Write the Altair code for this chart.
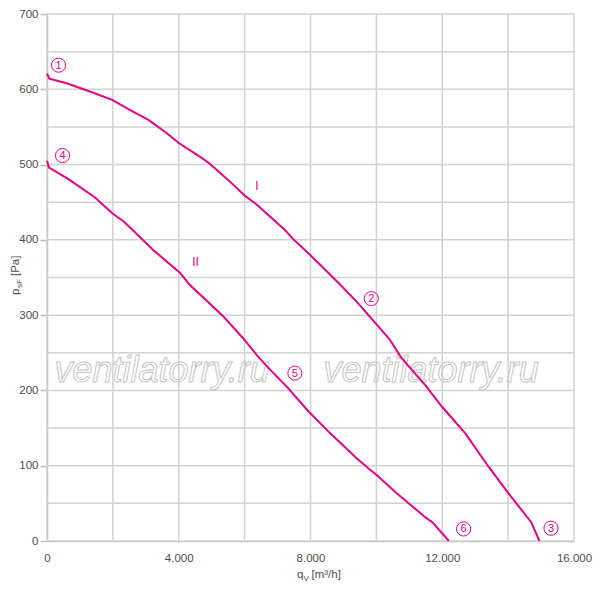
import altair as alt
import pandas as pd

# Kennlinie I (q_V in m³/h, p_sF in Pa)
q_1 = [0, 70, 600, 1300, 1980, 2500, 3090, 3600, 3990, 4590, 4890, 5490, 6000,
       6390, 7200, 7500, 7990, 8500, 8890, 9400, 10000, 10400, 10750, 11500,
       12000, 12700, 13400, 14000, 14700, 14950]
p_1 = [621, 614, 608, 597, 586, 573, 559, 543, 529, 512, 503, 480, 459,
       446, 414, 400, 380, 358, 341, 318, 288, 268, 244, 206,
       178, 143, 99, 64, 25, 0]

# Kennlinie II
q_2 = [0, 60, 640, 1440, 1990, 2340, 3240, 4040, 4340, 5340, 5940, 6390, 6700,
       7300, 7900, 8600, 9400, 9800, 10000, 10600, 11500, 11700, 12200]
p_2 = [505, 496, 481, 457, 435, 424, 386, 356, 340, 299, 270, 246, 231,
       204, 174, 143, 110, 95, 88, 64, 31, 25, 0]

# Betriebspunkte (Kreis-Nummern)
point_labels = ["1", "2", "3", "4", "5", "6"]
point_q = [351, 9846, 15301, 471, 7526, 12648]
point_p = [632, 322, 17, 512, 223, 16]

# Kurvennamen
curve_names = ["I", "II"]
curve_name_q = [6374, 4512]
curve_name_p = [471, 371]

# Raster und Achsenbeschriftung
grid_q = list(range(0, 16001, 2000))
grid_p = list(range(0, 701, 50))
tick_q = [0, 4000, 8000, 12000, 16000]
tick_p = list(range(0, 701, 100))

# Wasserzeichen
watermark = ["ventilatorry.ru", "ventilatorry.ru"]
watermark_q = [3497, 11663]
watermark_p = [211, 211]

PINK = "#e5007d"
GRID = "#d2d2d2"
AXIS = "#bdbdbd"
LABEL = "#4d4d4d"
FONT = "Liberation Sans"

x_scale = alt.Scale(domain=[0, 16000], nice=False)
y_scale = alt.Scale(domain=[0, 700], nice=False)

x_axis = alt.Axis(
    values=tick_q, grid=False, ticks=False, title=None,
    labelExpr="replace(format(datum.value, ','), ',', '.')",
    labelFont=FONT, labelFontSize=11.5, labelColor=LABEL, labelPadding=11,
    labelFlush=False, labelOverlap=False, domainColor=AXIS, domainWidth=1.5,
)
y_axis = alt.Axis(
    values=tick_p, grid=False, title=None, tickSize=7, tickColor=AXIS,
    tickWidth=1.5, labelFont=FONT, labelFontSize=11.5, labelColor=LABEL,
    labelPadding=2, labelFlush=False, labelOverlap=False,
    domainColor=AXIS, domainWidth=1.5,
)

X = alt.X("q:Q", scale=x_scale, axis=x_axis)
Y = alt.Y("p:Q", scale=y_scale, axis=y_axis)

curves = pd.concat([
    pd.DataFrame({"q": q_1, "p": p_1, "kurve": "I"}),
    pd.DataFrame({"q": q_2, "p": p_2, "kurve": "II"}),
])
points = pd.DataFrame({"nr": point_labels, "q": point_q, "p": point_p})
names = pd.DataFrame({"name": curve_names, "q": curve_name_q, "p": curve_name_p})
marks = pd.DataFrame({"t": watermark, "q": watermark_q, "p": watermark_p})

# Rasterlinien
grid_v = alt.Chart(pd.DataFrame({"q": grid_q})).mark_rule(
    color=GRID, strokeWidth=1.5
).encode(x=X)

grid_h = alt.Chart(pd.DataFrame({"p": grid_p})).mark_rule(
    color=GRID, strokeWidth=1.5
).encode(y=Y)

# Wasserzeichen als Umrissschrift
wm = alt.Chart(marks).mark_text(
    font=FONT, fontStyle="italic", fontSize=36, fillOpacity=0,
    stroke="#c4c4c4", strokeWidth=1, align="center", baseline="alphabetic"
).encode(x=X, y=Y, text="t:N")

lines = alt.Chart(curves).mark_line(color=PINK, strokeWidth=2).encode(
    x=X, y=Y, detail="kurve:N"
)

circles = alt.Chart(points).mark_point(
    shape="circle", size=200, filled=False, color=PINK, strokeWidth=1, opacity=1
).encode(x=X, y=Y)

digits = alt.Chart(points).mark_text(
    font=FONT, fontSize=11, color=PINK, align="center", baseline="middle", dy=0.5
).encode(x=X, y=Y, text="nr:N")

roman = alt.Chart(names).mark_text(
    font=FONT, fontSize=12, color=PINK, align="center", baseline="middle"
).encode(x=X, y=Y, text="name:N")

# Achsentitel mit tiefgestellten Zeichen
one = pd.DataFrame({"a": [0]})
title_style = dict(font=FONT, color=LABEL, align="left", baseline="alphabetic")

x_t1 = alt.Chart(one).mark_text(text="q", fontSize=11.5, **title_style).encode(
    x=alt.value(250), y=alt.value(564))
x_t2 = alt.Chart(one).mark_text(text="V", fontSize=8, **title_style).encode(
    x=alt.value(256.5), y=alt.value(567))
x_t3 = alt.Chart(one).mark_text(text="[m³/h]", fontSize=11.5, **title_style).encode(
    x=alt.value(264.5), y=alt.value(564))

y_t1 = alt.Chart(one).mark_text(text="p", fontSize=11.5, angle=270, **title_style).encode(
    x=alt.value(-28), y=alt.value(281))
y_t2 = alt.Chart(one).mark_text(text="sF", fontSize=8, angle=270, **title_style).encode(
    x=alt.value(-25.5), y=alt.value(274))
y_t3 = alt.Chart(one).mark_text(text="[Pa]", fontSize=11.5, angle=270, **title_style).encode(
    x=alt.value(-28), y=alt.value(262))

chart = alt.layer(
    grid_v, grid_h, wm, lines, circles, digits, roman,
    x_t1, x_t2, x_t3, y_t1, y_t2, y_t3,
).properties(
    width=527,
    height=527,
    autosize=alt.AutoSizeParams(type="none"),
    padding={"left": 39, "top": 6, "right": 18, "bottom": 41},
    background="white",
).configure_view(stroke=None)

chart.save("out.html", embed_options={"renderer": "svg", "actions": False})
